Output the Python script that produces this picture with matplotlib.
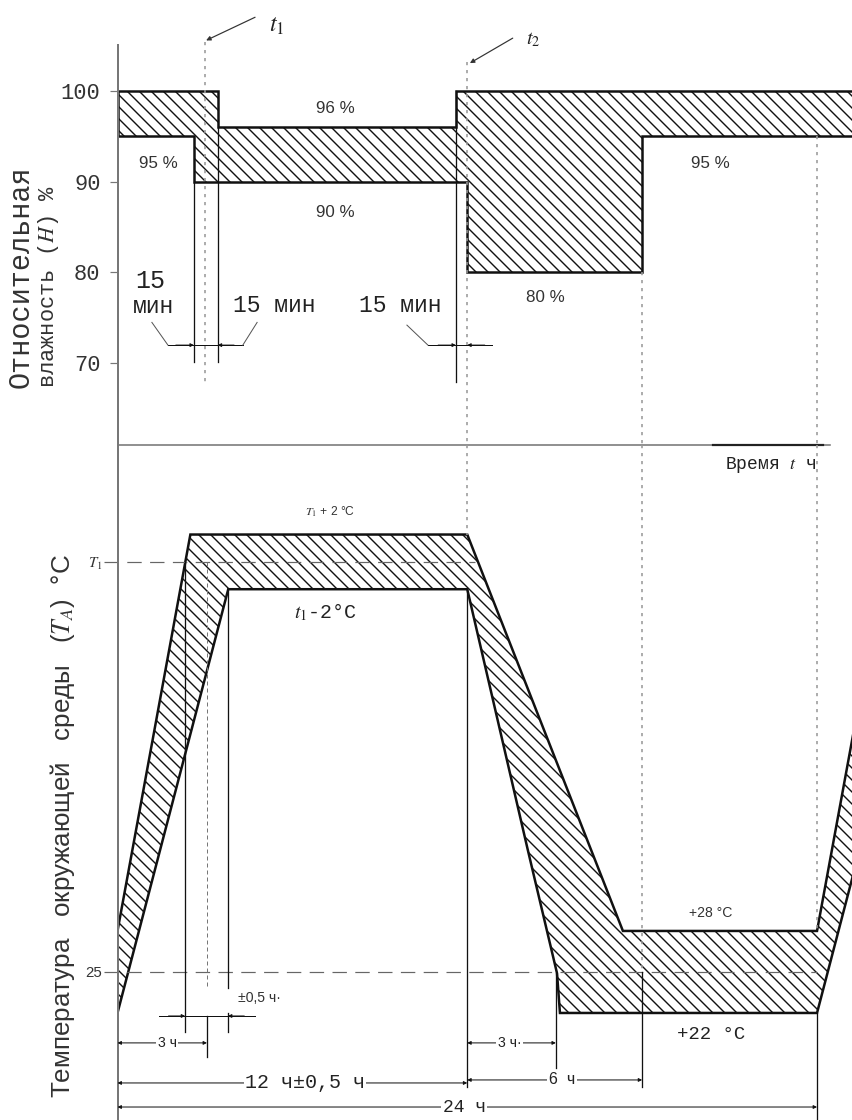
import matplotlib
matplotlib.use('Agg')
from matplotlib import pyplot as plt
from matplotlib.patches import Polygon

plt.rcParams['hatch.linewidth'] = 1.4
plt.rcParams['mathtext.fontset'] = 'stix'

# --- humidity profile, hours / % RH ---
hum_upper_t = [0, 3.44, 3.44, 11.61, 11.61, 27]
hum_upper_h = [100, 100, 96, 96, 100, 100]
hum_lower_t = [0, 2.62, 2.62, 12.0, 12.0, 18.0, 18.0, 27]
hum_lower_h = [95, 95, 90, 90, 80, 80, 95, 95]
hum_ticks = [100, 90, 80, 70]

# --- temperature profile, hours / degC (T1 taken as 55) ---
T1 = 55
temp_upper_t = [0, 2.5, 12.0, 17.34, 24.0, 26.5, 28]
temp_upper_T = [28, 57, 57, 28, 28, 57, 57]
temp_lower_t = [0, 3.8, 12.0, 14.08, 15.08, 15.18, 24.0, 27.8, 28]
temp_lower_T = [22, 53, 53, 33.9, 24.9, 22, 22, 53, 53]

W, H = 852, 1120
fig = plt.figure(figsize=(W / 72, H / 72), dpi=72)
x0 = 117.5 / W
ax_h = fig.add_axes([x0, 1 - 445 / H, 1 - x0, 445 / H])
ax_t = fig.add_axes([x0, 0, 1 - x0, (H - 445) / H])
for ax in (ax_h, ax_t):
    ax.set_xlim(0, 25.2)
    ax.patch.set_alpha(0)
    for s in ('top', 'right', 'bottom'):
        ax.spines[s].set_visible(False)
    ax.spines['left'].set_color('#777777')
    ax.spines['left'].set_linewidth(2)
    ax.set_xticks([])
ax_h.set_ylim(61, 110)
ax_t.set_ylim(14.17, 63.55)
ax_h.spines['left'].set_bounds(61, 105)

LINE = '#111111'
GREY = '#9a9a9a'
mono = 'Liberation Mono'
sans = 'Liberation Sans'

# ---------------- humidity panel ----------------
ax_h.set_yticks(hum_ticks)
ax_h.set_yticklabels([str(v) for v in hum_ticks], family=mono, fontsize=22, color='#333333')
ax_h.tick_params(axis='y', length=8, width=1.2, color='#777777', pad=9)

pts = list(zip(hum_upper_t, hum_upper_h)) + list(zip(hum_lower_t, hum_lower_h))[::-1]
ax_h.add_patch(Polygon(pts, closed=True, facecolor='none', edgecolor=LINE, lw=2.5, hatch='\\\\'))

dot = dict(color=GREY, lw=1.6, ls=(0, (2, 3)), clip_on=False)
ax_h.plot([3.0, 3.0], [105.4, 67.8], **dot)
ax_h.plot([12.0, 12.0], [103.2, 61], **dot)
ax_h.plot([18.0, 18.0], [80, 61], **dot)
ax_h.plot([24.0, 24.0], [95, 61], **dot)

# dimension verticals
ax_h.plot([2.62, 2.62], [90, 70.1], color=LINE, lw=1.3)
ax_h.plot([3.44, 3.44], [96, 70.1], color=LINE, lw=1.3)
ax_h.plot([11.61, 11.61], [100, 67.9], color=LINE, lw=1.3)

arr = dict(arrowstyle='-|>', lw=1, color=LINE, mutation_scale=7, shrinkA=0, shrinkB=0)
ax_h.plot([1.73, 4.3], [72.0, 72.0], color=LINE, lw=1)
ax_h.annotate('', xy=(2.62, 72.0), xytext=(2.0, 72.0), arrowprops=arr)
ax_h.annotate('', xy=(3.44, 72.0), xytext=(4.0, 72.0), arrowprops=arr)
ax_h.plot([1.18, 1.73], [74.5, 72.0], color='#555555', lw=1)
ax_h.plot([4.79, 4.3], [74.5, 72.0], color='#555555', lw=1)
ax_h.plot([10.65, 12.85], [72.0, 72.0], color=LINE, lw=1)
ax_h.annotate('', xy=(11.61, 72.0), xytext=(11.0, 72.0), arrowprops=arr)
ax_h.annotate('', xy=(12.0, 72.0), xytext=(12.6, 72.0), arrowprops=arr)
ax_h.plot([9.93, 10.65], [74.2, 72.0], color='#555555', lw=1)

ax_h.text(1.12, 79.1, '15', family=mono, fontsize=25, ha='center', va='center', color='#222222')
ax_h.text(1.22, 76.3, 'мин', family=mono, fontsize=23, ha='center', va='center', color='#222222')
ax_h.text(5.37, 76.4, '15 мин', family=mono, fontsize=23, ha='center', va='center', color='#222222')
ax_h.text(9.69, 76.4, '15 мин', family=mono, fontsize=23, ha='center', va='center', color='#222222')

lab = dict(family=sans, fontsize=17, ha='center', va='center', color='#333333')
ax_h.text(7.46, 98.1, '96 %', **lab)
ax_h.text(1.39, 92.0, '95 %', **lab)
ax_h.text(7.46, 86.6, '90 %', **lab)
ax_h.text(20.33, 92.0, '95 %', **lab)
ax_h.text(14.67, 77.2, '80 %', **lab)

# t1 / t2 pointers
ptr = dict(arrowstyle='-|>', lw=1.2, color='#333333', mutation_scale=9, shrinkA=0, shrinkB=0)
ax_h.annotate('', xy=(3.04, 105.55), xytext=(4.72, 108.1), arrowprops=ptr, annotation_clip=False)
ax_h.text(5.2, 107.3, '$t_1$', fontsize=24, ha='left', va='center', color='#222222')
ax_h.annotate('', xy=(12.09, 103.05), xytext=(13.56, 105.8), arrowprops=ptr, annotation_clip=False)
ax_h.text(14.0, 105.7, '$t_2$', fontsize=20, ha='left', va='center', color='#222222')

# time axis line
ax_h.plot([0, 24.45], [61, 61], color='#777777', lw=1.6, clip_on=False)
ax_h.plot([20.43, 24.2], [61, 61], color='#222222', lw=2.2, clip_on=False)

# ---------------- temperature panel ----------------
ax_t.set_yticks([25, T1])
ax_t.set_yticklabels(['25', '$T_1$'], family=sans, fontsize=15, color='#333333')
ax_t.tick_params(axis='y', length=0, pad=15)

pts = list(zip(temp_upper_t, temp_upper_T)) + list(zip(temp_lower_t, temp_lower_T))[::-1]
ax_t.add_patch(Polygon(pts, closed=True, facecolor='none', edgecolor=LINE, lw=2.5, hatch='\\\\'))

dash = dict(color='#666666', lw=1.2, ls=(0, (12, 7)), clip_on=False)
ax_t.plot([-0.45, 12.25], [T1, T1], **dash)
ax_t.plot([-0.45, 24.0], [25, 25], **dash)

ax_t.plot([12.0, 12.0], [63.55, 57], **dot)
ax_t.plot([18.0, 18.0], [63.55, 25], **dot)
ax_t.plot([24.0, 24.0], [63.55, 28], **dot)

sol = dict(color=LINE, lw=1.3)
ax_t.plot([2.32, 2.32], [T1, 20.61], **sol)
ax_t.plot([3.79, 3.79], [53, 23.83], **sol)
ax_t.plot([3.79, 3.79], [22.0, 20.61], **sol)
ax_t.plot([3.07, 3.07], [T1, 23.9], color='#777777', lw=1, ls=(0, (4, 3)))
ax_t.plot([3.07, 3.07], [21.78, 18.78], **sol)
ax_t.plot([12.0, 12.0], [53, 16.59], **sol)
ax_t.plot([15.04, 15.04], [24.93, 17.98], **sol)
ax_t.plot([18.0, 18.0], [25, 16.59], **sol)
ax_t.plot([24.0, 24.0], [22, 14.17], **sol)

# +-0.5 h tolerance
ax_t.plot([1.42, 4.72], [21.78, 21.78], color=LINE, lw=1)
ax_t.annotate('', xy=(2.32, 21.78), xytext=(1.75, 21.78), arrowprops=arr)
ax_t.annotate('', xy=(3.79, 21.78), xytext=(4.35, 21.78), arrowprops=arr)
ax_t.text(4.13, 23.1, '±0,5 ч·', family=sans, fontsize=14, ha='left', va='center', color='#333333')

dim = dict(arrowstyle='<|-|>', lw=1, color=LINE, mutation_scale=7, shrinkA=0, shrinkB=0)
box = dict(facecolor='white', edgecolor='none', pad=1.5)


def dimension(t_a, t_b, y, text, tx, size, family):
    ax_t.annotate('', xy=(t_a, y), xytext=(t_b, y), arrowprops=dim, annotation_clip=False)
    ax_t.text(tx, y, text, family=family, fontsize=size, ha='center', va='center',
              color='#222222', bbox=box)


dimension(0, 3.07, 19.81, '3 ч', 1.7, 14, sans)
dimension(12.0, 15.04, 19.81, '3 ч·', 13.46, 14, sans)
dimension(0, 12.0, 16.88, '12 ч±0,5 ч', 6.43, 20, mono)
dimension(12.0, 18.0, 17.1, '6  ч', 15.25, 16, sans)
dimension(0, 24.0, 15.12, '24 ч', 11.89, 18, mono)

ax_t.text(7.3, 58.65, '$T_1$ + 2 °C', family=sans, fontsize=12, ha='center', va='center', color='#333333')
ax_t.text(7.12, 51.33, '$t_1$-2°C', family=mono, fontsize=20, ha='center', va='center', color='#222222')
ax_t.text(20.36, 29.3, '+28 °C', family=sans, fontsize=14, ha='center', va='center', color='#333333')
ax_t.text(20.36, 20.4, '+22 °C', family=mono, fontsize=19, ha='center', va='center', color='#222222')
ax_t.text(22.4, 62.1, 'Время $t$ ч', family=mono, fontsize=18, ha='center', va='center',
          color='#222222')

# axis titles
fig.text(21 / W, 1 - 388 / H, 'Относительная', family=mono, fontsize=28.5, rotation=90,
         ha='center', va='bottom', color='#333333')
fig.text(49 / W, 1 - 388 / H, 'влажность ($H$) %', family=mono, fontsize=22, rotation=90,
         ha='center', va='bottom', color='#333333')
fig.text(63 / W, 1 - 1098 / H, 'Температура   окружающей   среды   ($T_A$)  °С', family=sans, fontsize=26,
         rotation=90, ha='center', va='bottom', color='#333333')

fig.savefig('out.png', dpi=72)
